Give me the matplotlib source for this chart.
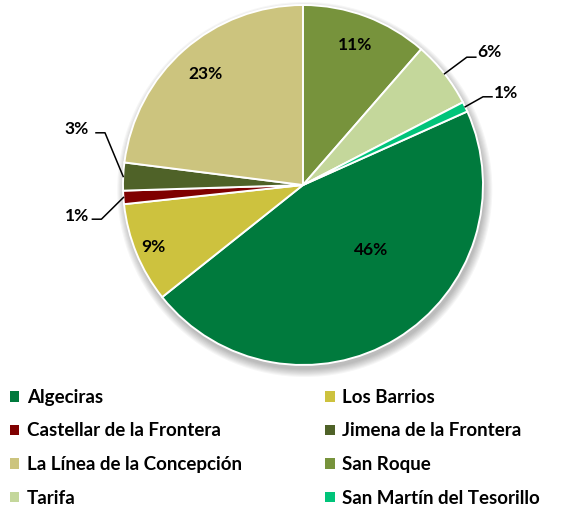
import numpy as np
import matplotlib
matplotlib.use("Agg")
import matplotlib.pyplot as plt
from matplotlib.patches import Circle, Patch

plt.rcParams["font.family"] = ["Lato", "DejaVu Sans"]
plt.rcParams["font.weight"] = "bold"

NAMES = ["Algeciras", "Los Barrios", "Castellar de la Frontera",
         "Jimena de la Frontera", "La Línea de la Concepción", "San Roque",
         "Tarifa", "San Martín del Tesorillo"]
SHARES = [46.0, 9.0, 1.2, 2.5, 23.0, 11.4, 6.0, 0.9]
PCT_LABELS = ["46%", "9%", "1%", "3%", "23%", "11%", "6%", "1%"]
COLORS = ["#007A3D", "#CDC23E", "#7F0000", "#4F6228", "#CCC47E",
          "#77933C", "#C4D79B", "#00C47A"]

W, H = 567, 507
fig = plt.figure(figsize=(W / 100, H / 100), dpi=100)
ax = fig.add_axes([0, 0, 1, 1])

# soft drop shadow under the pie
for k in range(8):
    ax.add_patch(Circle((0.01, -0.025), 1.0 + 0.006 * k, color="#000000",
                        alpha=0.035, lw=0, zorder=0))

start = 90 - (SHARES[5] + SHARES[6] + SHARES[7]) * 3.6
wedges, _ = ax.pie(SHARES, colors=COLORS, startangle=start, counterclock=False,
                   radius=1.0, wedgeprops=dict(edgecolor="white", linewidth=1.4))
for w in wedges:
    w.set_zorder(2)

ax.set_xlim(-303 / 180, 264 / 180)
ax.set_ylim(-322 / 180, 185 / 180)
ax.set_aspect("equal")
ax.axis("off")

# inside labels: (angle offset deg, radius fraction)
inside = {0: (15, 0.52), 1: (0, 0.9), 4: (0, 0.82), 5: (0, 0.83)}
# outside labels: (text x, text y, elbow x, elbow y, ha)
outside = {2: (-1.19, -0.17, -1.12, -0.19, "right"),
           3: (-1.19, 0.31, -1.10, 0.29, "right"),
           6: (0.97, 0.74, 0.91, 0.71, "left"),
           7: (1.06, 0.51, 1.00, 0.49, "left")}

for i, w in enumerate(wedges):
    mid = np.deg2rad((w.theta1 + w.theta2) / 2)
    if i in inside:
        off, rf = inside[i]
        a = mid + np.deg2rad(off)
        ax.text(rf * np.cos(a), rf * np.sin(a), PCT_LABELS[i], ha="center",
                va="center", fontsize=12.5, fontweight="bold", zorder=3)
    else:
        tx, ty, ex, ey, ha = outside[i]
        px, py = np.cos(mid), np.sin(mid)
        hx = ex + (-0.05 if ha == "right" else 0.05)
        ax.plot([px, ex, hx], [py, ey, ey], color="black", lw=1.1, zorder=3)
        ax.text(tx, ty, PCT_LABELS[i], ha=ha, va="center", fontsize=12.5,
                fontweight="bold", zorder=3)

handles = [Patch(facecolor=c, edgecolor="none") for c in COLORS]
order = list(range(0, 8, 2)) + list(range(1, 8, 2))
fig.legend([handles[i] for i in order], [NAMES[i] for i in order],
           ncol=2, loc="upper left", bbox_to_anchor=(10 / W, 1 - 389 / H),
           frameon=False, fontsize=13.5, handlelength=0.5, handleheight=0.5,
           handletextpad=0.4, labelspacing=0.88, columnspacing=4.45,
           borderpad=0, borderaxespad=0)

fig.savefig("out.png", dpi=100)
